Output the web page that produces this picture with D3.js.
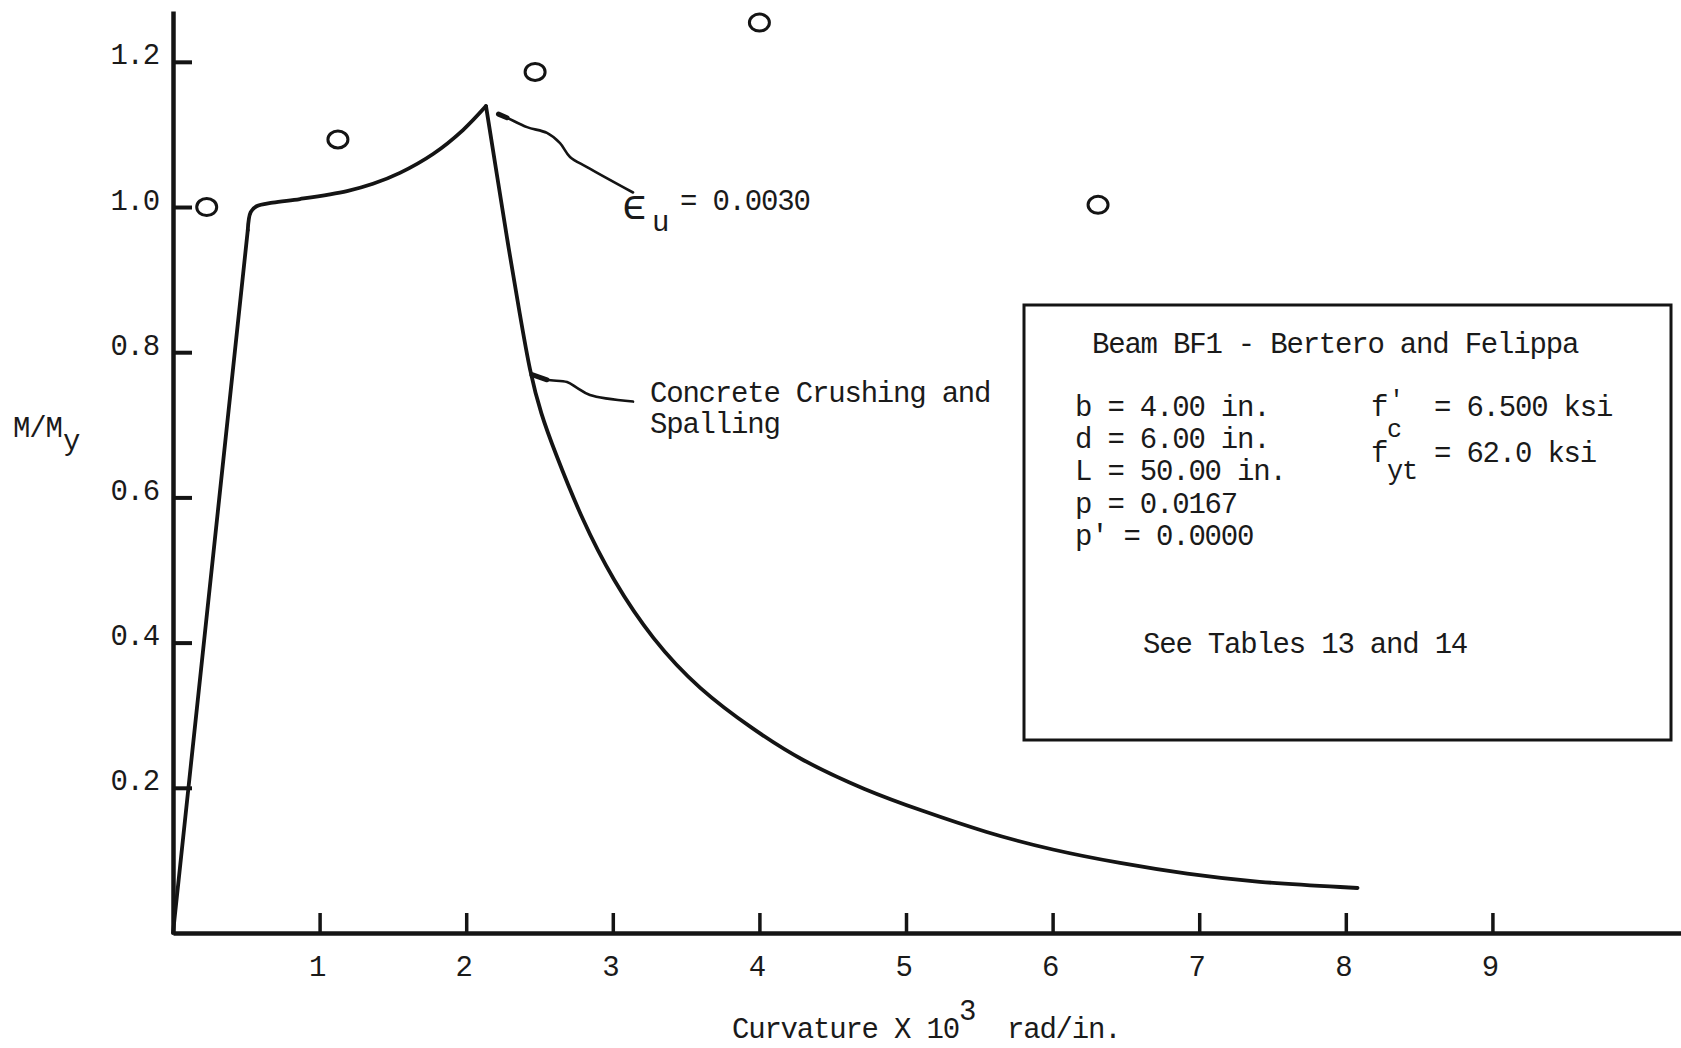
<!DOCTYPE html>
<html>
<head>
<meta charset="utf-8">
<script src="https://cdn.jsdelivr.net/npm/d3@7"></script>
<style>
  body { margin: 0; background: #fff; }
  svg { display: block; }
  text { font-family: "Liberation Mono", "DejaVu Sans Mono", monospace; font-size: 29px; letter-spacing: -1.2px; fill: #1a1a1a; }
</style>
</head>
<body>
<svg id="chart" width="1681" height="1048"></svg>
<script>
// curvature (x 10^3 rad/in.) vs M/My
const xTicks = [1, 2, 3, 4, 5, 6, 7, 8, 9];
const yTicks = [0.2, 0.4, 0.6, 0.8, 1.0, 1.2];

const elasticBranch = [[0, 0], [0.51, 0.968]];
const hardeningBranch = [
  [0.51, 0.968], [0.53, 0.993], [0.57, 1.001], [0.68, 1.006], [0.866, 1.011],
  [1.187, 1.022], [1.364, 1.032], [1.548, 1.047], [1.774, 1.073], [1.978, 1.106],
  [2.135, 1.139]
];
const softeningBranch = [
  [2.135, 1.139], [2.21, 1.044], [2.285, 0.948], [2.367, 0.851], [2.435, 0.772],
  [2.51, 0.715], [2.60, 0.665], [2.79, 0.569], [3.00, 0.486], [3.27, 0.404],
  [3.59, 0.335], [3.96, 0.280], [4.28, 0.238], [4.73, 0.196], [5.10, 0.169],
  [5.55, 0.138], [6.00, 0.114], [6.46, 0.096], [6.92, 0.081], [7.37, 0.070],
  [8.08, 0.062]
];

// test points (open circles)
const testX = [0.23, 1.125, 2.47, 4.0, 6.31];
const testY = [1.0, 1.093, 1.186, 1.254, 1.003];

// hand drawn leader lines for the notes
const strainLeader = [[2.22, 1.128], [2.278, 1.123], [2.415, 1.110], [2.551, 1.102], [2.640, 1.088], [2.708, 1.069], [2.824, 1.055], [3.138, 1.020]];
const crushLeader = [[2.449, 0.769], [2.551, 0.762], [2.688, 0.759], [2.756, 0.751], [2.844, 0.741], [3.138, 0.732]];

const beamLines = ["b = 4.00 in.", "d = 6.00 in.", "L = 50.00 in.", "p = 0.0167", "p' = 0.0000"];

const svg = d3.select("#chart");
const ink = "#141414";

const x = d3.scaleLinear().domain([0, 10.3]).range([173, 1683]);
const y = d3.scaleLinear().domain([0, 1.27]).range([933, 11]);

// axes
const xAxis = d3.axisBottom(x)
  .tickValues(xTicks)
  .tickFormat(d3.format("d"))
  .tickSizeInner(-20)
  .tickSizeOuter(0)
  .tickPadding(22);

const gx = svg.append("g")
  .attr("transform", `translate(0,${y(0)})`)
  .call(xAxis);
gx.select(".domain").attr("stroke", ink).attr("stroke-width", 4.5);
gx.selectAll(".tick line").attr("stroke", ink).attr("stroke-width", 3.5);
gx.selectAll(".tick text").attr("font-size", null).attr("font-family", null).attr("dx", -3);

const yAxis = d3.axisLeft(y)
  .tickValues(yTicks)
  .tickFormat(d3.format(".1f"))
  .tickSizeInner(-19)
  .tickSizeOuter(0)
  .tickPadding(14);

const gy = svg.append("g")
  .attr("transform", `translate(${x(0)},0)`)
  .call(yAxis);
gy.select(".domain").attr("stroke", ink).attr("stroke-width", 4.5);
gy.selectAll(".tick line").attr("stroke", ink).attr("stroke-width", 4);
gy.selectAll(".tick text").attr("font-size", null).attr("font-family", null).attr("dy", 2);
svg.selectAll(".tick text").attr("fill", ink);

// moment-curvature curve
const straight = d3.line().x(d => x(d[0])).y(d => y(d[1]));
const smooth = d3.line().x(d => x(d[0])).y(d => y(d[1])).curve(d3.curveCatmullRom.alpha(0.5));
const faired = d3.line().x(d => x(d[0])).y(d => y(d[1])).curve(d3.curveBasis);

const curve = svg.append("g")
  .attr("fill", "none")
  .attr("stroke", ink)
  .attr("stroke-width", 3.8)
  .attr("stroke-linecap", "round")
  .attr("stroke-linejoin", "round");

curve.append("path").attr("d", straight(elasticBranch));
curve.append("path").attr("d", smooth(hardeningBranch));
curve.append("path").attr("d", faired(softeningBranch));

// test points
svg.append("g")
  .selectAll("ellipse")
  .data(testX.map((v, i) => [v, testY[i]]))
  .join("ellipse")
  .attr("cx", d => x(d[0]))
  .attr("cy", d => y(d[1]))
  .attr("rx", 10)
  .attr("ry", 8.5)
  .attr("fill", "none")
  .attr("stroke", ink)
  .attr("stroke-width", 3);

// leaders
const freehand = d3.line().x(d => x(d[0])).y(d => y(d[1])).curve(d3.curveCatmullRom);
const leaders = svg.append("g")
  .attr("fill", "none")
  .attr("stroke", ink)
  .attr("stroke-width", 2.6)
  .attr("stroke-linecap", "round");
leaders.append("path").attr("d", freehand(strainLeader));
leaders.append("path").attr("d", freehand(crushLeader));
leaders.append("path").attr("d", straight(strainLeader.slice(0, 2))).attr("stroke-width", 5);
leaders.append("path").attr("d", straight(crushLeader.slice(0, 2))).attr("stroke-width", 5);

// notes
const eps = svg.append("text").attr("x", 622).attr("y", 219);
eps.append("tspan").attr("font-size", 42).text("\u03F5");
eps.append("tspan").attr("x", 652).attr("y", 231).text("u");
eps.append("tspan").attr("x", 680).attr("y", 210).text("= 0.0030");

const crush = svg.append("text").attr("x", 650).attr("y", 402);
crush.append("tspan").text("Concrete Crushing and");
crush.append("tspan").attr("x", 650).attr("y", 433).text("Spalling");

// axis titles
const yTitle = svg.append("text").attr("x", 13).attr("y", 437);
yTitle.append("tspan").text("M/M");
yTitle.append("tspan").attr("x", 63).attr("y", 450).text("y");

const xTitle = svg.append("text").attr("x", 732).attr("y", 1038);
xTitle.append("tspan").text("Curvature X 10");
xTitle.append("tspan").attr("x", 959).attr("y", 1020).text("3");
xTitle.append("tspan").attr("x", 1007).attr("y", 1038).text("rad/in.");

// beam data box
const box = svg.append("g");
box.append("rect")
  .attr("x", 1024).attr("y", 305)
  .attr("width", 647).attr("height", 435)
  .attr("fill", "none")
  .attr("stroke", ink)
  .attr("stroke-width", 3);

box.append("text").attr("x", 1092).attr("y", 353).text("Beam BF1 - Bertero and Felippa");

box.selectAll("text.prop")
  .data(beamLines)
  .join("text")
  .attr("class", "prop")
  .attr("x", 1075)
  .attr("y", (d, i) => 416 + i * 32.2)
  .text(d => d);

const fc = box.append("text").attr("x", 1371).attr("y", 416);
fc.append("tspan").text("f");
fc.append("tspan").attr("x", 1387).attr("y", 437).attr("font-size", 25).text("c");
fc.append("tspan").attr("x", 1389).attr("y", 408).attr("font-size", 25).text("'");
fc.append("tspan").attr("x", 1434).attr("y", 416).text("= 6.500 ksi");

const fy = box.append("text").attr("x", 1371).attr("y", 462);
fy.append("tspan").text("f");
fy.append("tspan").attr("x", 1387).attr("y", 479).attr("font-size", 27).text("yt");
fy.append("tspan").attr("x", 1434).attr("y", 462).text("= 62.0 ksi");

box.append("text").attr("x", 1143).attr("y", 653).text("See Tables 13 and 14");
</script>
</body>
</html>
